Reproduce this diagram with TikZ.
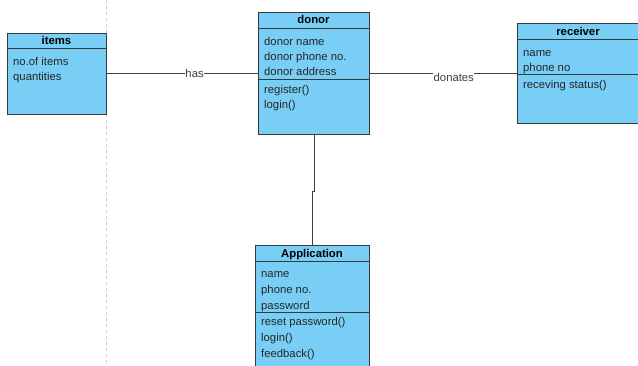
\documentclass[tikz,border=0pt]{standalone}
\usepackage{fontspec}
\setmainfont{Liberation Sans}
\definecolor{clsfill}{HTML}{78CEF5}
\definecolor{clsedge}{HTML}{36393D}
\begin{document}
\begin{tikzpicture}[x=1pt,y=-1pt,
  cls/.style={draw=clsedge, fill=clsfill, line width=1pt, anchor=north west, inner sep=0pt},
  ttl/.style={font=\fontsize{11.3}{13}\selectfont\bfseries, inner sep=0pt, anchor=base},
  txt/.style={font=\fontsize{11.3}{13}\selectfont, anchor=base west, inner sep=0pt, text=black!85},
  sep/.style={draw=clsedge, line width=1pt},
  conn/.style={draw=black!75, line width=0.8pt},
  lbl/.style={fill=white, inner sep=0.5pt, font=\fontsize{11.3}{13}\selectfont, text=black!75},
  guide/.style={draw=black!20, line width=1pt, dash pattern=on 3pt off 3pt}]
\useasboundingbox (0,0) rectangle (638,365);
\clip (0,0) rectangle (638,365);
\fill[white] (0,0) rectangle (638,365);
% page guide
\coordinate (gtop) at (106,0);
\coordinate (gbot) at (106,365);
\draw[guide] (gtop) -- (gbot);

% items
\node[cls, minimum width=99pt, minimum height=81pt] (items) at (7,33) {};
\draw[sep] (items.west |- 0,48) -- (items.east |- 0,48);
\node[ttl] (itemsT) at (56.5,44.5) {items};
\node[txt] (i1) at (13,65) {no.of items};
\node[txt] (i2) at (13,80) {quantities};

% donor
\node[cls, minimum width=111pt, minimum height=122pt] (donor) at (258,12) {};
\draw[sep] (donor.west |- 0,28) -- (donor.east |- 0,28);
\draw[sep] (donor.west |- 0,79) -- (donor.east |- 0,79);
\node[ttl] (donorT) at (313.5,23.5) {donor};
\node[txt] (d1) at (264,45) {donor name};
\node[txt] (d2) at (264,60) {donor phone no.};
\node[txt] (d3) at (264,75) {donor address};
\node[txt] (d4) at (264,93) {register()};
\node[txt] (d5) at (264,108) {login()};

% receiver
\node[cls, minimum width=123pt, minimum height=100pt] (receiver) at (517,23) {};
\draw[sep] (receiver.west |- 0,39) -- (receiver.east |- 0,39);
\draw[sep] (receiver.west |- 0,74) -- (receiver.east |- 0,74);
\node[ttl] (receiverT) at (578,35) {receiver};
\node[txt] (r1) at (523,56) {name};
\node[txt] (r2) at (523,71) {phone no};
\node[txt] (r3) at (523,88) {receving status()};

% Application
\node[cls, minimum width=114pt, minimum height=130pt] (app) at (255,245) {};
\draw[sep] (app.west |- 0,261) -- (app.east |- 0,261);
\draw[sep] (app.west |- 0,312) -- (app.east |- 0,312);
\node[ttl] (appT) at (312,257) {Application};
\node[txt] (a1) at (261,277) {name};
\node[txt] (a2) at (261,293) {phone no.};
\node[txt] (a3) at (261,309) {password};
\node[txt] (a4) at (261,325) {reset password()};
\node[txt] (a5) at (261,341) {login()};
\node[txt] (a6) at (261,357) {feedback()};

% connectors
\draw[conn] (items.east |- 0,73) -- node[lbl, pos=0.58] {has} (donor.west |- 0,73);
\draw[conn] (donor.east |- 0,73) -- node[lbl, pos=0.57, yshift=-4pt] {donates} (receiver.west |- 0,73);
\draw[conn] (donor.south) -- ++(0,56) -| (app.north);
\end{tikzpicture}
\end{document}
